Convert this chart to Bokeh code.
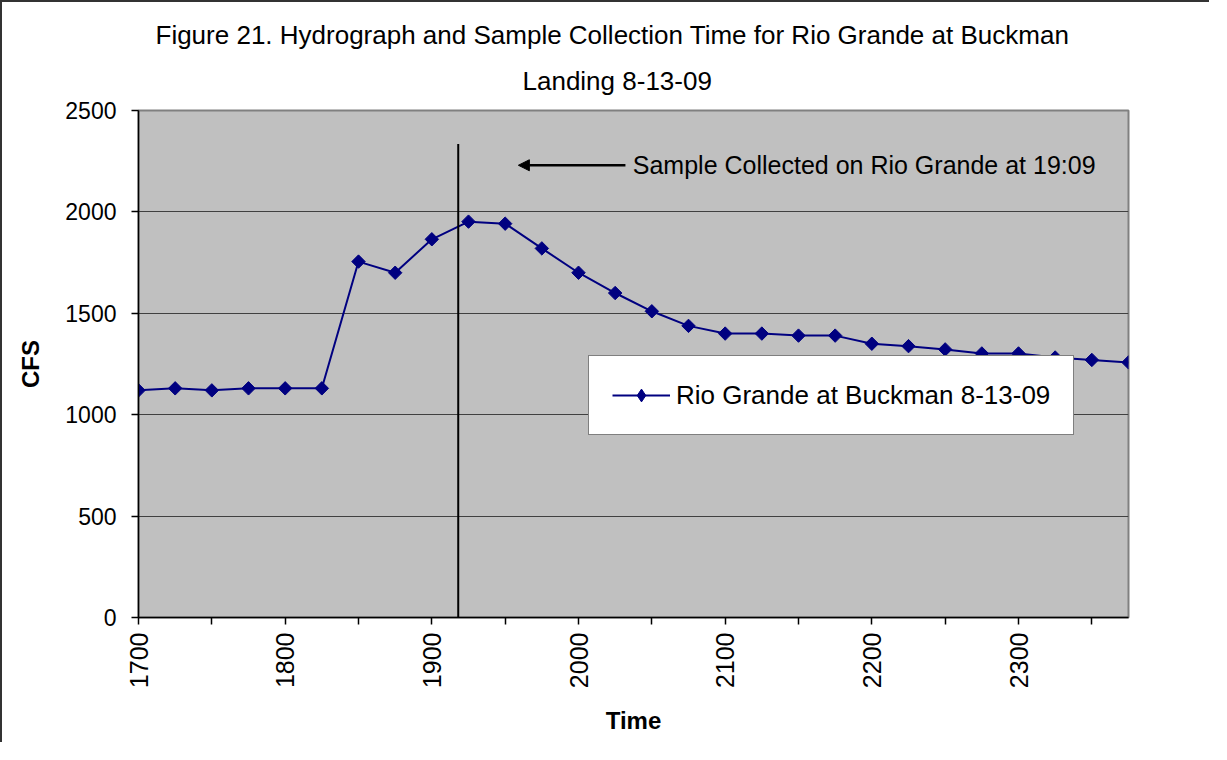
import math
from bokeh.plotting import figure
from bokeh.models import (Range1d, FixedTicker, Label, Arrow, NormalHead, Title,
                          Legend, LegendItem, ColumnDataSource)
from bokeh.embed import file_html
from bokeh.resources import INLINE

# ---------------- data ----------------
TIME = [1700, 1725, 1750, 1775, 1800, 1825, 1850, 1875, 1900, 1925,
        1950, 1975, 2000, 2025, 2050, 2075, 2100, 2125, 2150, 2175,
        2200, 2225, 2250, 2275, 2300, 2325, 2350, 2375]
CFS = [1120, 1130, 1120, 1130, 1130, 1130, 1755, 1700, 1865, 1952,
       1942, 1820, 1700, 1600, 1510, 1438, 1400, 1400, 1390, 1390,
       1350, 1338, 1322, 1302, 1302, 1282, 1270, 1258]

X_TICKS = [1700, 1750, 1800, 1850, 1900, 1950, 2000, 2050, 2100, 2150,
           2200, 2250, 2300, 2350]
X_TICK_LABELS = ["1700", "", "1800", "", "1900", "", "2000", "", "2100", "",
                 "2200", "", "2300", ""]
Y_TICKS = [0, 500, 1000, 1500, 2000, 2500]

SAMPLE_TIME = 1918
SAMPLE_LINE_BOTTOM = 0
SAMPLE_LINE_TOP = 2335
ARROW_Y = 2230
ARROW_START = 2032
ARROW_END = 1959
NOTE_X = 2037

TITLE_LINE1 = "Figure 21. Hydrograph and Sample Collection Time for Rio Grande at Buckman"
TITLE_LINE2 = "Landing 8-13-09"
SERIES_NAME = "Rio Grande at Buckman 8-13-09"
NOTE_TEXT = "Sample Collected on Rio Grande at 19:09"
X_LABEL = "Time"
Y_LABEL = "CFS"

FONT = "Liberation Sans"
NAVY = "#000080"

# ---------------- figure ----------------
p = figure(width=1209, height=742, output_backend="svg", toolbar_location=None,
           x_range=Range1d(1700, 2375), y_range=Range1d(0, 2500),
           min_border_left=136, min_border_right=83,
           min_border_top=108, min_border_bottom=127)
p.styles = {"border-left": "2px solid #333333", "border-top": "2px solid #333333"}

p.background_fill_color = "#c0c0c0"
p.border_fill_color = "white"
p.outline_line_color = "#808080"
p.outline_line_width = 2

p.xgrid.visible = False
p.ygrid.ticker = FixedTicker(ticks=Y_TICKS)
p.ygrid.grid_line_color = "#404040"
p.ygrid.grid_line_width = 1

# title: second line first (closest to the frame), then the first line above it
p.add_layout(Title(text=TITLE_LINE2, align="left", offset=384, standoff=29,
                   text_font=FONT, text_font_size="26px", text_font_style="normal",
                   text_color="black"), "above")
p.add_layout(Title(text=TITLE_LINE1, align="left", offset=17, standoff=0,
                   text_font=FONT, text_font_size="26px", text_font_style="normal",
                   text_color="black"), "above")

# axes
p.xaxis.ticker = FixedTicker(ticks=X_TICKS, minor_ticks=[])
p.xaxis.major_label_overrides = {t: lab for t, lab in zip(X_TICKS, X_TICK_LABELS)}
p.xaxis.major_label_orientation = math.pi / 2
p.yaxis.ticker = FixedTicker(ticks=Y_TICKS, minor_ticks=[])

for ax in (p.xaxis[0], p.yaxis[0]):
    ax.axis_line_color = "black"
    ax.axis_line_width = 1.5
    ax.major_tick_line_color = "black"
    ax.major_tick_line_width = 1.5
    ax.major_tick_out = 7
    ax.major_tick_in = 0
    ax.minor_tick_out = 0
    ax.minor_tick_in = 0
    ax.major_label_text_font = FONT
    ax.major_label_text_color = "black"
    ax.axis_label_text_font = FONT
    ax.axis_label_text_font_style = "bold"
    ax.axis_label_text_font_size = "24px"
    ax.axis_label_text_color = "black"

p.xaxis.major_label_text_font_size = "25px"
p.yaxis.major_label_text_font_size = "23px"
p.xaxis.major_label_standoff = 8
p.yaxis.major_label_standoff = 15
p.xaxis.axis_label = X_LABEL
p.yaxis.axis_label = Y_LABEL
p.xaxis.axis_label_standoff = 16
p.yaxis.axis_label_standoff = 18

# data series
src = ColumnDataSource(data=dict(time=TIME, cfs=CFS))
r_line = p.line("time", "cfs", source=src, line_color=NAVY, line_width=2)
r_pts = p.scatter("time", "cfs", source=src, marker="square", angle=math.pi / 4,
                  size=9.5, fill_color=NAVY, line_color=NAVY)
# diamond glyph used for the legend key (drawn inside the first point)
r_key = p.scatter(x=TIME[:1], y=CFS[:1], marker="diamond", size=8,
                  fill_color=NAVY, line_color=NAVY)

# sample collection line
p.segment(x0=[SAMPLE_TIME], y0=[SAMPLE_LINE_BOTTOM], x1=[SAMPLE_TIME], y1=[SAMPLE_LINE_TOP],
          line_color="black", line_width=2)

# arrow + note
p.add_layout(Arrow(end=NormalHead(size=11, fill_color="black", line_color="black"),
                   x_start=ARROW_START, y_start=ARROW_Y, x_end=ARROW_END, y_end=ARROW_Y,
                   line_color="black", line_width=2.5))
p.add_layout(Label(x=NOTE_X, y=ARROW_Y, text=NOTE_TEXT, text_font=FONT,
                   text_font_size="25px", text_baseline="middle", text_align="left",
                   text_color="black"))

# legend
legend = Legend(items=[LegendItem(label=SERIES_NAME, renderers=[r_line, r_key])],
                location=(450, 182), orientation="vertical",
                padding=23, margin=0, spacing=0,
                glyph_width=58, glyph_height=32, label_standoff=6,
                label_text_font=FONT, label_text_font_size="26px",
                label_text_color="black",
                border_line_color="black", border_line_width=1.5,
                background_fill_color="white", background_fill_alpha=1)
p.add_layout(legend, "center")

open("out.html", "w").write(file_html(p, INLINE))
